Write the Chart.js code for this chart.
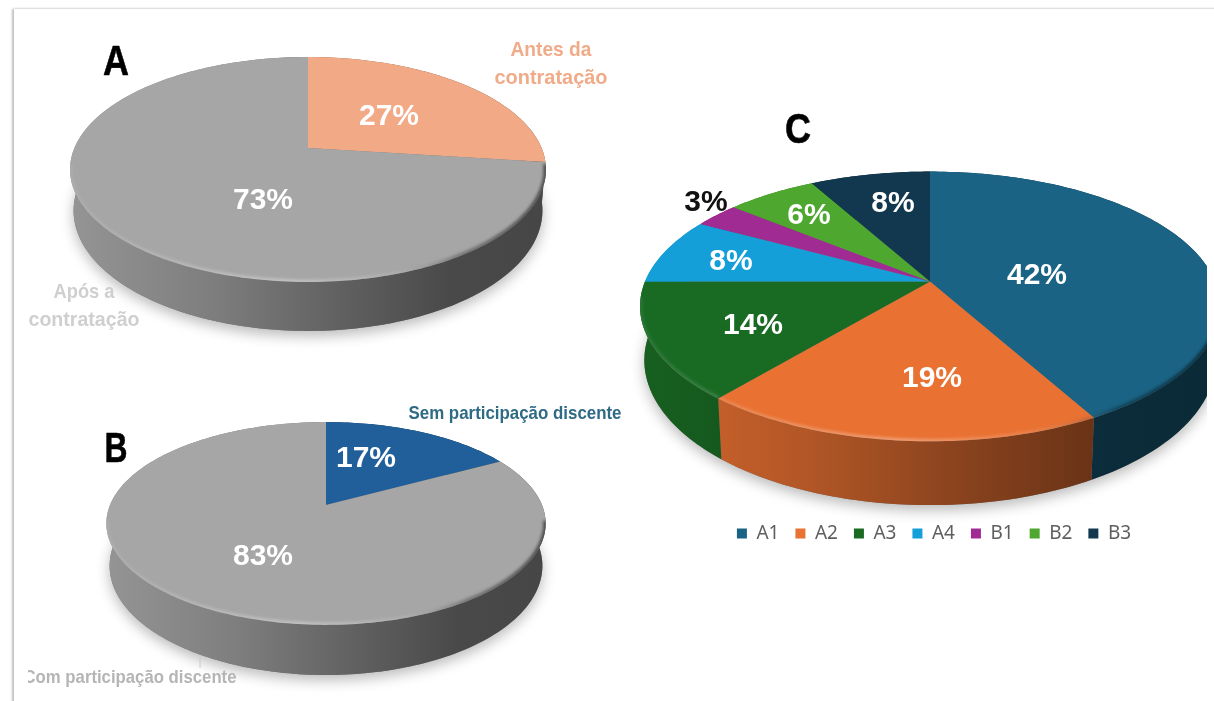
<!DOCTYPE html>
<html lang="pt">
<head>
<meta charset="utf-8">
<title>Gráficos A, B e C</title>
<script src="https://cdn.jsdelivr.net/npm/chart.js@4/dist/chart.umd.min.js"></script>
<style>
  html, body { margin: 0; padding: 0; background: #fff; overflow: hidden; }
  #page { position: relative; width: 1214px; height: 701px; overflow: hidden; }
  #frame {
    position: absolute; left: 14px; top: 9px; width: 1400px; height: 900px;
    box-shadow: -2px 0 2px #c0c0c0, 0 -1px 2px #e8e8e8;
  }
  canvas { position: absolute; filter: blur(0.5px); }
  #chartA { left: 0; top: 0; }
  #chartB { left: 0; top: 400px; }
  #chartC { left: 620px; top: 55px; }
</style>
</head>
<body>
<div id="page">
  <div id="frame"></div>
  <canvas id="chartA" width="616" height="350"></canvas>
  <canvas id="chartB" width="652" height="301"></canvas>
  <canvas id="chartC" width="587" height="498"></canvas>
</div>
<script>
// ====== DATA ======
const labelsA = ["Antes da contratação", "Após a contratação"];
const valuesA = [27, 73];
const colorsA = ["#f2a986", "#a6a6a6"];

const labelsB = ["Sem participação discente", "Com participação discente"];
const valuesB = [17, 83];
const colorsB = ["#215f9a", "#a6a6a6"];

const labelsC = ["A1", "A2", "A3", "A4", "B1", "B2", "B3"];
const valuesC = [42, 19, 14, 8, 3, 6, 8];
const colorsC = ["#1a6384", "#e97132", "#196b24", "#149fd8", "#a02b93", "#4ea72e", "#12384f"];

const pctFont = "bold 30px 'Liberation Sans'";
const letterFont = "bold 42px 'Liberation Sans'";

// ====== HELPERS ======
function shade(hex, f) {
  const n = parseInt(hex.slice(1), 16);
  const r = Math.round((n >> 16 & 255) * f);
  const g = Math.round((n >> 8 & 255) * f);
  const b = Math.round((n & 255) * f);
  return `rgb(${r},${g},${b})`;
}

// circle -> screen with a bit of perspective, the back of the pie is smaller
function project(arc, o, t) {
  const u = Math.cos(t);
  const v = Math.sin(t);
  const s = 1 + o.persp * v;
  return { x: arc.x + arc.outerRadius * u / s, y: arc.y + arc.outerRadius * o.tilt * v / s, s };
}

function ringPoints(arc, o, start, end) {
  const steps = Math.max(2, Math.ceil((end - start) / 0.02));
  const pts = [];
  for (let i = 0; i <= steps; i++) {
    pts.push(project(arc, o, start + (end - start) * i / steps));
  }
  return pts;
}

function lower(arc, o, p) {
  return { x: arc.x + (p.x - arc.x) * o.lowerScale, y: p.y + o.depth / p.s };
}

function tracePoly(ctx, pts) {
  ctx.beginPath();
  pts.forEach((p, i) => (i ? ctx.lineTo(p.x, p.y) : ctx.moveTo(p.x, p.y)));
  ctx.closePath();
}

// squeezed text, the original labels are narrow and tall
function fitText(ctx, text, x, y, width, heavy) {
  const w = ctx.measureText(text).width;
  ctx.save();
  ctx.translate(x, y);
  ctx.scale(width / w, 1);
  ctx.fillText(text, 0, 0);
  if (heavy) {
    ctx.lineWidth = heavy;
    ctx.lineJoin = "round";
    ctx.strokeStyle = ctx.fillStyle;
    ctx.strokeText(text, 0, 0);
  }
  ctx.restore();
}

// ====== 3D PIE PLUGIN ======
const pie3d = {
  id: "pie3d",
  afterLayout(chart, args, o) {
    if (o.legendShift) {
      chart.legend.left += o.legendShift;
      chart.legend.right += o.legendShift;
    }
  },
  beforeDatasetsDraw(chart, args, o) {
    const ctx = chart.ctx;
    const arcs = chart.getDatasetMeta(0).data.map(el =>
      el.getProps(["x", "y", "startAngle", "endAngle", "outerRadius"], true));
    const colors = chart.data.datasets[0].backgroundColor;
    const first = arcs[0];
    const left = first.x - first.outerRadius * 1.03;
    const right = first.x + first.outerRadius * 1.03;

    // soft shadow under the disc
    const all = ringPoints(first, o, 0, Math.PI * 2).map(p => lower(first, o, p));
    ctx.save();
    ctx.shadowColor = "rgba(0,0,0,0.28)";
    ctx.shadowBlur = 14;
    ctx.shadowOffsetY = 5;
    ctx.fillStyle = "#777";
    tracePoly(ctx, all);
    ctx.fill();
    ctx.restore();

    // side wall
    arcs.forEach((arc, i) => {
      const top = ringPoints(arc, o, arc.startAngle, arc.endAngle);
      const poly = top.concat(top.map(p => lower(arc, o, p)).reverse());
      const g = ctx.createLinearGradient(left, 0, right, 0);
      o.wallStops.forEach(s => g.addColorStop(s[0], shade(colors[i], s[1])));
      ctx.fillStyle = g;
      tracePoly(ctx, poly);
      ctx.fill();
    });

    // top face
    arcs.forEach((arc, i) => {
      const ring = ringPoints(arc, o, arc.startAngle, arc.endAngle);
      const poly = [{ x: arc.x, y: arc.y }].concat(ring);
      ctx.fillStyle = colors[i];
      tracePoly(ctx, poly);
      ctx.fill();

      // bevel, only on the front edge
      const front = ring.filter(p => p.y > arc.y + 14);
      if (front.length < 2) return;
      ctx.save();
      tracePoly(ctx, poly);
      ctx.clip();
      const g = ctx.createLinearGradient(left, 0, right, 0);
      g.addColorStop(0, "rgba(255,255,255,0.08)");
      g.addColorStop(0.45, "rgba(255,255,255,0.32)");
      g.addColorStop(0.66, "rgba(255,255,255,0.12)");
      g.addColorStop(0.82, "rgba(0,0,0,0.30)");
      g.addColorStop(1, "rgba(0,0,0,0.55)");
      ctx.strokeStyle = g;
      ctx.lineWidth = 5;
      ctx.filter = "blur(1.5px)";
      ctx.beginPath();
      front.forEach((p, k) => (k ? ctx.lineTo(p.x, p.y) : ctx.moveTo(p.x, p.y)));
      ctx.stroke();
      ctx.restore();
    });
    return false;
  },
  afterDraw(chart, args, o) {
    const ctx = chart.ctx;
    const ox = chart.canvas.offsetLeft;
    const oy = chart.canvas.offsetTop;
    const arc = chart.getDatasetMeta(0).data[0];
    const values = chart.data.datasets[0].data;
    const total = values.reduce((a, b) => a + b, 0);
    ctx.save();
    ctx.textAlign = "center";
    ctx.textBaseline = "middle";

    // percent labels
    ctx.font = pctFont;
    values.forEach((v, i) => {
      ctx.fillStyle = o.pctColors ? o.pctColors[i] : "#fff";
      ctx.fillText(Math.round(v / total * 100) + "%", arc.x + o.pctOffsets[i][0], arc.y + o.pctOffsets[i][1]);
    });

    // panel letter
    ctx.font = letterFont;
    ctx.fillStyle = "#000";
    fitText(ctx, o.letter, o.letterAt[0] - ox, o.letterAt[1] - oy, o.letterAt[2], 0.6);

    // leader line left over from the original
    if (o.leader) {
      ctx.strokeStyle = "#c8c8c8";
      ctx.lineWidth = 1;
      ctx.beginPath();
      ctx.moveTo(o.leader[0] - ox, o.leader[1] - oy);
      ctx.lineTo(o.leader[0] - ox, o.leader[2] - oy);
      ctx.stroke();
    }

    // category notes beside the pie
    (o.notes || []).forEach(n => {
      ctx.save();
      if (n.clipLeft) {
        ctx.beginPath();
        ctx.rect(n.clipLeft - ox, 0, chart.width, chart.height);
        ctx.clip();
      }
      ctx.font = n.font;
      ctx.fillStyle = n.color;
      n.lines.forEach((line, k) => fitText(ctx, line, n.x - ox, n.y - oy + k * 28, n.widths[k]));
      ctx.restore();
    });
    ctx.restore();
  }
};

const wallStops = [[0, 0.9], [0.3, 0.76], [0.6, 0.56], [0.8, 0.44], [1, 0.42]];

function makePie(id, labels, values, colors, radius, padding, legend, opts) {
  return new Chart(document.getElementById(id), {
    type: "pie",
    data: { labels, datasets: [{ data: values, backgroundColor: colors, borderWidth: 0 }] },
    plugins: [pie3d],
    options: {
      responsive: false,
      animation: false,
      radius,
      layout: { padding },
      plugins: {
        legend,
        tooltip: { enabled: false },
        pie3d: Object.assign({ wallStops }, opts)
      }
    }
  });
}

// ====== CHARTS ======
const bigNote = "bold 21px 'Liberation Sans'";
const smallNote = "bold 19px 'Liberation Sans'";

makePie("chartA", labelsA, valuesA, colorsA, 233.6, { bottom: 54 }, { display: false }, {
  tilt: 0.464, persp: -0.191, depth: 39.6, lowerScale: 0.985,
  pctOffsets: [[81, -31], [-45, 53]],
  letter: "A", letterAt: [116, 63, 26],
  notes: [
    { lines: ["Antes da", "contratação"], widths: [81, 113], x: 551, y: 50, color: "#f0ab88", font: bigNote },
    { lines: ["Após a", "contratação"], widths: [61, 111], x: 84, y: 292, color: "#cfcfcf", font: bigNote }
  ]
});

makePie("chartB", labelsB, valuesB, colorsB, 216, { bottom: 91 }, { display: false }, {
  tilt: 0.454, persp: -0.182, depth: 41, lowerScale: 0.985,
  pctOffsets: [[40, -46], [-63, 52]],
  letter: "B", letterAt: [116, 450, 23],
  leader: [200, 658, 668],
  notes: [
    { lines: ["Sem participação discente"], widths: [213], x: 515, y: 414, color: "#2f6b85", font: smallNote },
    { lines: ["Com participação discente"], widths: [213], x: 130, y: 678, color: "#b5b5b5", font: smallNote, clipLeft: 28 }
  ]
});

makePie("chartC", labelsC, valuesC, colorsC, 285, { left: 33 }, {
  position: "bottom",
  labels: {
    boxWidth: 10, boxHeight: 10, padding: 16, color: "#5f5f5f",
    font: { family: "'Noto Sans'", size: 19 }
  }
}, {
  tilt: 0.457, persp: -0.185, depth: 52, lowerScale: 0.985,
  legendShift: 4,
  pctOffsets: [[107, -6], [2, 97], [-177, 44], [-199, -20], [-224, -79], [-121, -66], [-37, -78]],
  pctColors: ["#fff", "#fff", "#fff", "#fff", "#111", "#fff", "#fff"],
  letter: "C", letterAt: [798, 131, 26]
});
</script>
</body>
</html>
